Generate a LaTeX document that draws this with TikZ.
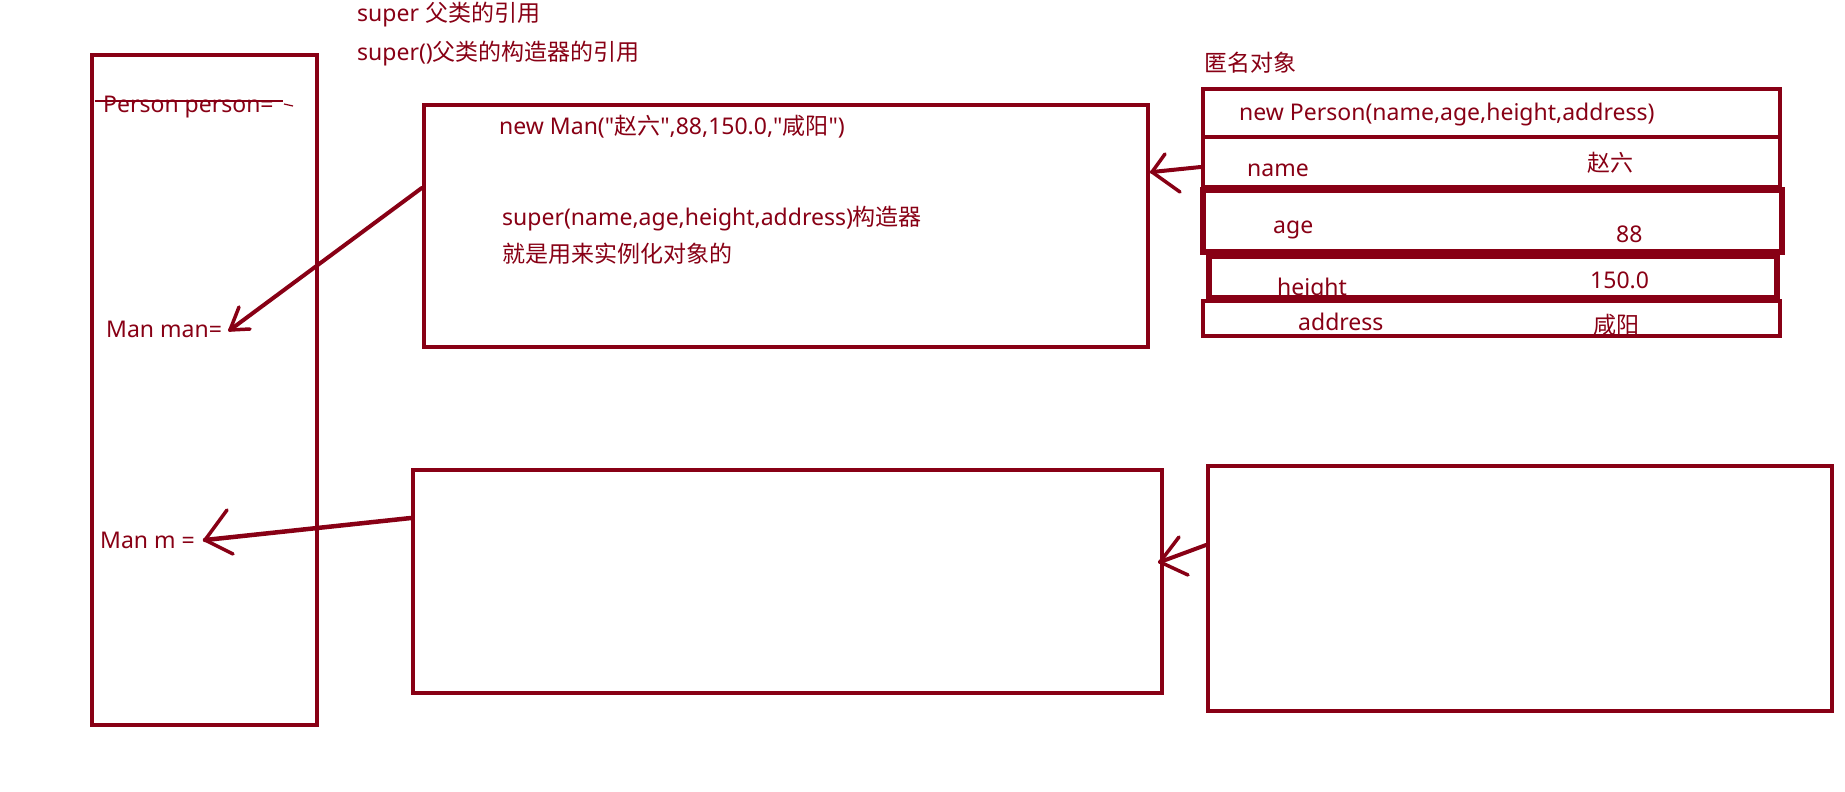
\documentclass[tikz,border=0pt]{standalone}
\usepackage{fontspec}
\setmainfont{Noto Sans}[Ligatures=TeXOff]
\newfontfamily\cjk{Noto Sans CJK SC}[Ligatures=TeXOff]
\newcommand{\zhs}[1]{{\cjk #1}}
\definecolor{dred}{RGB}{136,0,21}
\begin{document}
\begin{tikzpicture}[x=1pt,y=-1pt,
  box/.style={draw=dred, line width=4pt, inner sep=0pt, fill=none},
  lbl/.style={text=dred, font=\fontsize{23}{28}\selectfont, inner sep=0pt, anchor=base west},
  link/.style={draw=dred, line width=4pt, line cap=round, line join=round},
  headline/.style={draw=dred, line width=3.5pt, line cap=round, line join=round}]
\fill[white] (0,0) rectangle (1845,792);
\useasboundingbox (0,0) rectangle (1845,792);

% texts
\node[lbl] (tsuper)  at (357,22) {super \zhs{父类的引用}};
\node[lbl] (tsuperc) at (357,61) {super()\zhs{父类的构造器的引用}};
\node[lbl] (pp)      at (103,112) {Person person=};
\node[lbl] (mman)    at (106,337) {Man man=};
\node[lbl] (mm)      at (100,548) {Man m =};
\node[lbl] (newman)  at (499,134) {new Man("\zhs{赵六}",88,150.0,"\zhs{咸阳}")};
\node[lbl] (sup)     at (502,225) {super(name,age,height,address)\zhs{构造器}};
\node[lbl] (jiu)     at (502,262) {\zhs{就是用来实例化对象的}};
\node[lbl] (anon)    at (1204,72) {\zhs{匿名对象}};
\node[lbl] (np)      at (1239,121) {new Person(name,age,height,address)};
\node[lbl] (kname)   at (1247,176) {name};
\node[lbl] (vname)   at (1587,171) {\zhs{赵六}};
\node[lbl] (kage)    at (1273,233) {age};
\node[lbl] (vage)    at (1616,242) {88};
\node[lbl] (kh)      at (1277,295) {height};
\node[lbl] (vh)      at (1590,288) {150.0};
\node[lbl] (kaddr)   at (1298,330) {address};
\node[lbl] (vaddr)   at (1593,333) {\zhs{咸阳}};

% strike-through of "Person person="
\draw[dred, line width=1.6pt] (95,101) -- (283,101);
\draw[dred, line width=1.2pt] (284,104) -- (293,106);

% boxes
\node[box, minimum width=225pt, minimum height=670pt] (refs) at (204.5,390) {};
\node[box, line width=4.5pt, minimum width=724pt, minimum height=242pt] (ctor) at (786,226) {};
\node[box, minimum width=749pt, minimum height=223pt] (man2) at (787.5,581.5) {};
\node[box, minimum width=624pt, minimum height=245pt] (anon2) at (1520,588.5) {};

% table rows of the anonymous object
\node[box, line width=4.5pt, minimum width=577pt, minimum height=48pt] (r1) at (1491.5,113) {};
\node[box, line width=4.5pt, minimum width=577pt, minimum height=50pt] (r2) at (1491.5,162) {};
\node[box, line width=5.5pt, minimum width=579pt, minimum height=62pt] (r3) at (1492.5,221) {};
\node[box, line width=6pt, minimum width=568pt, minimum height=42pt] (r4) at (1493,277) {};
\node[box, line width=4.5pt, minimum width=577pt, minimum height=35pt] (r5) at (1491.5,318.5) {};

% arrow tips
\coordinate (t1) at (230,330);
\coordinate (t2) at (205,540);
\coordinate (t3) at (1160,562);
\coordinate (t4) at (1152,172);

% connectors
\draw[link] (ctor.west |- 0,188) -- (t1);
\draw[headline] (t1) ++(9,-23) -- (t1) -- ++(20,-1);

\draw[link, line width=4.5pt] (man2.west |- 0,518) -- (t2);
\draw[headline] (t2) ++(22,-30) -- (t2) -- ++(28,14);

\draw[link] (anon2.west |- 0,545) -- (t3);
\draw[headline] (t3) ++(19,-25) -- (t3) -- ++(28,13);

\draw[link] (r2.west |- 0,167) -- (t4);
\draw[headline] (t4) ++(13,-18) -- (t4) -- ++(28,20);
\end{tikzpicture}
\end{document}
